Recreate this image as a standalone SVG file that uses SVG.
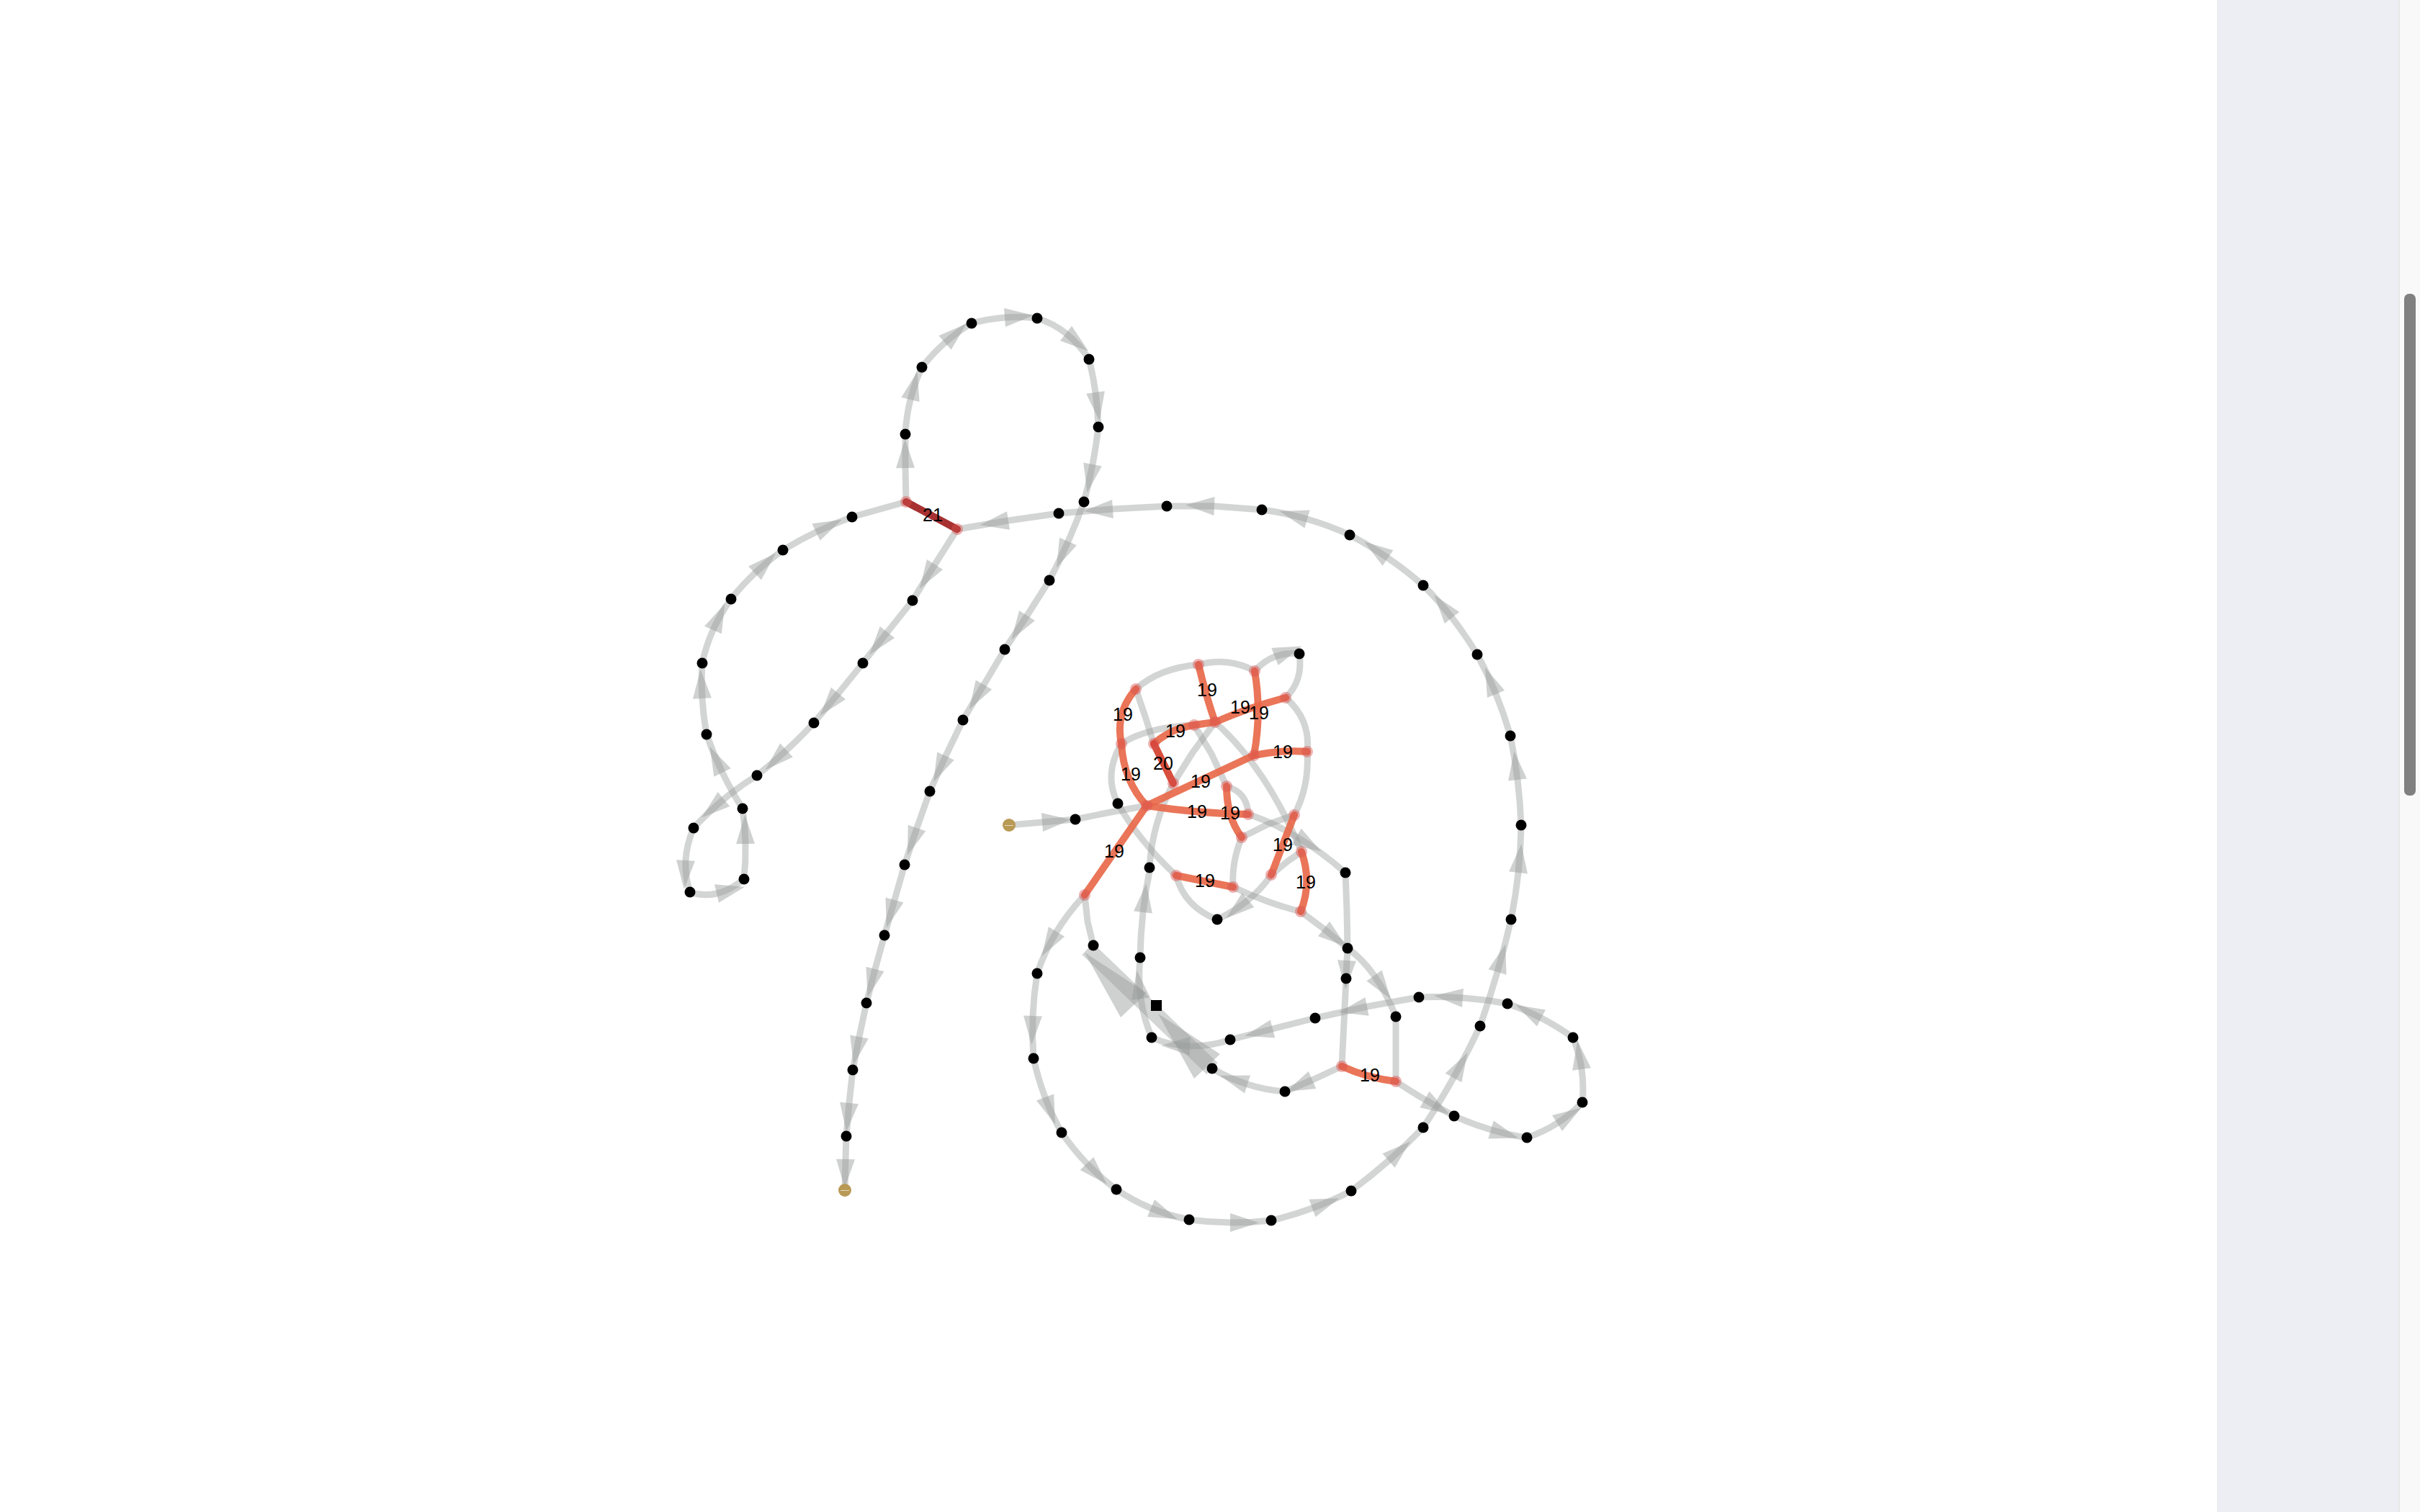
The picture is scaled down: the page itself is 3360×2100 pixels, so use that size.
<svg xmlns="http://www.w3.org/2000/svg" width="3360" height="2100" viewBox="0 0 3360 2100">
<style>
.g{fill:none;stroke:#969b98;stroke-opacity:.42;stroke-width:9;stroke-linecap:round;stroke-linejoin:round}
.ga{marker-mid:url(#a)}
.band{fill:none;stroke:#969b98;stroke-opacity:.42;stroke-width:22;stroke-linecap:butt}
.bh{fill:#959a97;fill-opacity:.45}
.r{fill:none;stroke:#e8694a;stroke-opacity:.92;stroke-width:10;stroke-linecap:round}
.r20{stroke:#d43f2c}
.r21{stroke:#a02020}
.jc{fill:#d9534f;fill-opacity:.45}
.n{fill:#000}
.gold{fill:#b99a55}
.lb{font-family:"Liberation Sans",Arial,sans-serif;font-size:25px;fill:#000;text-anchor:middle;dominant-baseline:central}
.gl{font-family:"Liberation Sans",Arial,sans-serif;font-size:9px;fill:#fff;text-anchor:middle;dominant-baseline:central}
</style>
<defs>
<marker id="a" markerUnits="userSpaceOnUse" orient="auto" overflow="visible" markerWidth="1" markerHeight="1" refX="0" refY="0"><path d="M0,-13 L40,0 L0,13 Z" fill="#959a97" fill-opacity="0.45"/></marker>
</defs>
<rect width="3360" height="2100" fill="#fff"/>
<rect x="3078" y="0" width="252" height="2100" fill="#eceef3"/>
<rect x="3330" y="0" width="30" height="2100" fill="#f9f9f9"/>
<rect x="3330" y="0" width="2" height="2100" fill="#e6e6e6"/>
<rect x="3338" y="408" width="16" height="697" rx="7" fill="#808080"/>

<g id="connectors">
<path class="g ga" d="M1258 697 L1257 650 L1257 603"/>
<path class="g ga" d="M1257 603 Q1258.25 578.25 1264 555 T1280 510"/>
<path class="g ga" d="M1280 510 Q1294.75 491.25 1312 476 T1349 449"/>
<path class="g ga" d="M1349 449 Q1372.25 442.75 1395 441 T1440 442"/>
<path class="g ga" d="M1440 442 Q1462 448.75 1480 463 T1512 499"/>
<path class="g ga" d="M1512 499 Q1517.75 521.5 1521 545 T1525 593"/>
<path class="g ga" d="M1525 593 Q1522 619 1517 645 T1505 697"/>
<path class="g ga" d="M1505 697 Q1495 724.75 1483 752 T1457 806"/>
<path class="g ga" d="M1457 806 L1426 855 L1395 902"/>
<path class="g ga" d="M1395 902 L1366 951 L1337 1000"/>
<path class="g ga" d="M1337 1000 L1313 1050 L1291 1099"/>
<path class="g ga" d="M1291 1099 L1273 1150 L1256 1201"/>
<path class="g ga" d="M1256 1201 L1242 1250 L1228 1299"/>
<path class="g ga" d="M1228 1299 L1215 1346 L1203 1393"/>
<path class="g ga" d="M1203 1393 L1193 1440 L1184 1486"/>
<path class="g ga" d="M1184 1486 L1179 1532 L1175 1578"/>
<path class="g ga" d="M1175 1578 L1174 1610 L1173 1653"/>

<path class="g ga" d="M1329 735 L1298 784 L1267 834"/>
<path class="g ga" d="M1267 834 L1232 878 L1198 921"/>
<path class="g ga" d="M1198 921 L1164 963 L1130 1004"/>
<path class="g ga" d="M1130 1004 Q1111.75 1023.75 1092 1042 T1051 1077"/>
<path class="g ga" d="M1051 1077 Q1027 1091.75 1005 1110 T963 1150"/>
<path class="g ga" d="M963 1150 Q953.25 1172.75 952 1195 T958 1239"/>
<path class="g ga" d="M958 1239 Q976.25 1245.5 995 1241 T1033 1221"/>
<path class="g ga" d="M1033 1221 Q1035.5 1196.5 1035 1172 T1031 1123"/>
<path class="g ga" d="M1031 1123 Q1015.5 1098.75 1003 1073 T981 1020"/>
<path class="g ga" d="M981 1020 Q976.5 994.75 975 970 T975 921"/>
<path class="g ga" d="M975 921 Q980 897.25 990 875 T1015 832"/>
<path class="g ga" d="M1015 832 Q1030 813 1048 796 T1087 764"/>
<path class="g ga" d="M1087 764 Q1109 750.5 1133 739 T1183 718"/>
<path class="g" d="M1183 718 L1258 697"/>

<path class="g ga" d="M1470 713 L1400 723 L1329 735"/>
<path class="g ga" d="M1620 703 L1545 707 L1470 713"/>
<path class="g ga" d="M1752 708 L1686 703 L1620 703"/>
<path class="g ga" d="M1874 743 Q1845.5 729.75 1815 721 T1752 708"/>
<path class="g ga" d="M1976 813 Q1952.5 792.5 1927 775 T1874 743"/>
<path class="g ga" d="M2051 909 Q2034.75 882 2016 858 T1976 813"/>
<path class="g ga" d="M2097 1022 Q2088.5 992.25 2077 964 T2051 909"/>
<path class="g ga" d="M2112 1146 Q2110.75 1114 2107 1083 T2097 1022"/>
<path class="g ga" d="M2098 1277 Q2104.5 1244.75 2108 1212 T2112 1146"/>
<path class="g ga" d="M2055 1425 Q2068.25 1387 2079 1350 T2098 1277"/>
<path class="g ga" d="M1976 1566 Q1998.25 1532.25 2018 1497 T2055 1425"/>
<path class="g ga" d="M1876 1654 Q1903 1634 1928 1612 T1976 1566"/>
<path class="g ga" d="M1765 1695 Q1794.25 1688.25 1822 1678 T1876 1654"/>
<path class="g ga" d="M1651 1694 Q1679.5 1697.75 1708 1698 T1765 1695"/>
<path class="g ga" d="M1550 1652 Q1572.75 1667.5 1598 1678 T1651 1694"/>
<path class="g ga" d="M1474 1573 Q1490 1596.25 1509 1616 T1550 1652"/>
<path class="g ga" d="M1435 1470 Q1441.25 1498.25 1451 1524 T1474 1573"/>
<path class="g ga" d="M1440 1352 Q1435.25 1381.5 1434 1411 T1435 1470"/>
<path class="g ga" d="M1506 1243 Q1483.5 1266.75 1467 1294 T1440 1352"/>

<path class="g ga" d="M1938 1502 Q1957.75 1515 1978 1527 T2019 1550"/>
<path class="g ga" d="M2019 1550 Q2044.75 1561.5 2070 1569 T2120 1580"/>
<path class="g ga" d="M2120 1580 Q2142.75 1572.25 2162 1560 T2197 1531"/>
<path class="g ga" d="M2197 1531 Q2199.25 1507.5 2196 1485 T2184 1441"/>
<path class="g ga" d="M2184 1441 Q2162.75 1425.75 2140 1414 T2093 1394"/>
<path class="g ga" d="M2093 1394 Q2061.75 1388.25 2031 1386 T1970 1385"/>
<path class="g ga" d="M1970 1385 L1898 1398 L1826 1414"/>
<path class="g ga" d="M1826 1414 L1767 1429 L1708 1444"/>
<path class="g ga" d="M1708 1444 Q1679.25 1453.75 1652 1453 T1599 1441"/>
<path class="g ga" d="M1599 1441 Q1588 1414.75 1584 1387 T1583 1330"/>
<path class="g ga" d="M1583 1330 Q1583.5 1298.25 1587 1267 T1597 1205"/>
<path class="g ga" d="M1863 1481 L1822 1500 L1784 1516"/>
<path class="g ga" d="M1784 1516 Q1757.25 1514 1732 1506 T1683 1484"/>
<path class="band" d="M1683 1484 L1510 1318"/>
<path class="bh" d="M1694 1464 L1608 1408 L1658 1498 Z"/>
<path class="bh" d="M1592 1379 L1506 1323 L1556 1413 Z"/>
<path class="g" d="M1869 1359 L1863 1481"/>
<path class="g" d="M1938 1412 L1938 1502"/>
<path class="g ga" d="M1871 1317 L1870 1334 L1869 1359"/>
<path class="g ga" d="M1871 1317 Q1891.25 1331.25 1908 1355 T1938 1412"/>

<path class="g" d="M1577 957 Q1593.25 942.5 1615 934 T1664 923"/>
<path class="g" d="M1664 923 Q1685.5 917.75 1705 920 T1742 932"/>
<path class="g ga" d="M1742 932 Q1754.5 918 1770 912 T1804 908"/>
<path class="g" d="M1804 908 Q1806.75 926.75 1802 942 T1785 969"/>
<path class="g" d="M1785 969 Q1802.5 984.25 1810 1003 T1815 1044"/>
<path class="g" d="M1815 1044 Q1816.5 1068 1812 1090 T1797 1132"/>
<path class="g" d="M1577 957 L1590 995 L1602 1033"/>
<path class="g" d="M1557 1033 Q1574.75 1021.5 1600 1015 T1658 1007"/>
<path class="g" d="M1557 1033 Q1544.25 1054.25 1543 1075 T1552 1116"/>
<path class="g" d="M1552 1116 Q1566.75 1142 1587 1167 T1633 1216"/>
<path class="g" d="M1633 1216 Q1638.75 1237.75 1653 1253 T1690 1277"/>
<path class="g ga" d="M1765 1215 Q1751.75 1234.5 1733 1250 T1690 1277"/>
<path class="g" d="M1765 1215 L1788 1196 L1807 1183"/>
<path class="g" d="M1687 1003 Q1723 1035 1753 1080 T1807 1183"/>
<path class="g" d="M1658 1007 L1682 1047 L1703 1092"/>
<path class="g" d="M1703 1092 Q1717.5 1096.25 1725 1106 T1733 1131"/>
<path class="g ga" d="M1733 1131 Q1766.25 1141.75 1800 1162 T1868 1212"/>
<path class="g" d="M1724 1163 L1760 1145 L1797 1132"/>
<path class="g" d="M1724 1163 Q1717 1179.75 1714 1197 T1712 1232"/>
<path class="g" d="M1712 1232 Q1736.5 1243.5 1760 1252 T1806 1266"/>
<path class="g ga" d="M1806 1266 L1838 1290 L1871 1317"/>
<path class="g" d="M1868 1212 L1870 1265 L1871 1317"/>
<path class="g" d="M1493 1138 L1542 1128 L1592 1119"/>
<path class="g" d="M1687 1003 L1656 1045 L1629 1088"/>
<path class="g" d="M1596 1205 Q1597.75 1174.25 1606 1145 T1629 1088"/>
<path class="g ga" d="M1401 1146 L1447 1142 L1493 1138"/>
<path class="g" d="M1506 1243 L1510 1280 L1518 1313"/>

<path class="r r21" d="M1258 697 L1329 735"/>
<path class="r" d="M1577 957 Q1548 990 1557 1033"/>
<path class="r" d="M1557 1033 Q1560 1085 1592 1119"/>
<path class="r" d="M1664 923 Q1674 965 1687 1003"/>
<path class="r" d="M1602 1033 Q1625 1012 1658 1007 L1687 1003 Q1735 982 1785 969"/>
<path class="r" d="M1742 932 Q1752 990 1741 1049"/>
<path class="r" d="M1741 1049 Q1780 1041 1815 1044"/>
<path class="r r20" d="M1602 1033 L1629 1088"/>
<path class="r" d="M1592 1119 L1741 1049"/>
<path class="r" d="M1592 1119 Q1665 1130 1733 1131"/>
<path class="r" d="M1703 1092 Q1703 1135 1724 1163"/>
<path class="r" d="M1797 1132 L1765 1215"/>
<path class="r" d="M1807 1183 Q1822 1225 1806 1266"/>
<path class="r" d="M1633 1216 L1712 1232"/>
<path class="r" d="M1592 1119 L1506 1243"/>
<path class="r" d="M1863 1481 Q1898 1497 1938 1502"/>
</g>

<g id="junctions">
<circle class="jc" cx="1258" cy="697" r="8"/><circle class="jc" cx="1329" cy="735" r="8"/>
<circle class="jc" cx="1577" cy="957" r="8"/><circle class="jc" cx="1664" cy="923" r="8"/>
<circle class="jc" cx="1742" cy="932" r="8"/><circle class="jc" cx="1785" cy="969" r="8"/>
<circle class="jc" cx="1557" cy="1033" r="8"/><circle class="jc" cx="1602" cy="1033" r="8"/>
<circle class="jc" cx="1658" cy="1007" r="8"/><circle class="jc" cx="1687" cy="1003" r="8"/>
<circle class="jc" cx="1741" cy="1049" r="8"/><circle class="jc" cx="1815" cy="1044" r="8"/>
<circle class="jc" cx="1629" cy="1088" r="8"/><circle class="jc" cx="1592" cy="1119" r="8"/>
<circle class="jc" cx="1703" cy="1092" r="8"/><circle class="jc" cx="1733" cy="1131" r="8"/>
<circle class="jc" cx="1724" cy="1163" r="8"/><circle class="jc" cx="1797" cy="1132" r="8"/>
<circle class="jc" cx="1765" cy="1215" r="8"/><circle class="jc" cx="1807" cy="1183" r="8"/>
<circle class="jc" cx="1806" cy="1266" r="8"/><circle class="jc" cx="1633" cy="1216" r="8"/>
<circle class="jc" cx="1712" cy="1232" r="8"/><circle class="jc" cx="1506" cy="1243" r="8"/>
<circle class="jc" cx="1863" cy="1481" r="8"/><circle class="jc" cx="1938" cy="1502" r="8"/>
</g>

<g id="labels">
<text class="lb" x="1295" y="715">21</text>
<text class="lb" x="1559" y="992">19</text>
<text class="lb" x="1676" y="958">19</text>
<text class="lb" x="1722" y="982">19</text>
<text class="lb" x="1748" y="990">19</text>
<text class="lb" x="1632" y="1015">19</text>
<text class="lb" x="1781" y="1044">19</text>
<text class="lb" x="1615" y="1060">20</text>
<text class="lb" x="1570" y="1075">19</text>
<text class="lb" x="1667" y="1085">19</text>
<text class="lb" x="1662" y="1127">19</text>
<text class="lb" x="1708" y="1129">19</text>
<text class="lb" x="1781" y="1173">19</text>
<text class="lb" x="1547" y="1182">19</text>
<text class="lb" x="1673" y="1223">19</text>
<text class="lb" x="1813" y="1225">19</text>
<text class="lb" x="1902" y="1493">19</text>
</g>

<g id="n1"><circle class="n" cx="1257" cy="603" r="7.5"/></g>
<g id="n2"><circle class="n" cx="1280" cy="510" r="7.5"/></g>
<g id="n3"><circle class="n" cx="1349" cy="449" r="7.5"/></g>
<g id="n4"><circle class="n" cx="1440" cy="442" r="7.5"/></g>
<g id="n5"><circle class="n" cx="1512" cy="499" r="7.5"/></g>
<g id="n6"><circle class="n" cx="1525" cy="593" r="7.5"/></g>
<g id="n7"><circle class="n" cx="1505" cy="697" r="7.5"/></g>
<g id="n8"><circle class="n" cx="1470" cy="713" r="7.5"/></g>
<g id="n9"><circle class="n" cx="1457" cy="806" r="7.5"/></g>
<g id="n10"><circle class="n" cx="1395" cy="902" r="7.5"/></g>
<g id="n11"><circle class="n" cx="1337" cy="1000" r="7.5"/></g>
<g id="n12"><circle class="n" cx="1291" cy="1099" r="7.5"/></g>
<g id="n13"><circle class="n" cx="1256" cy="1201" r="7.5"/></g>
<g id="n14"><circle class="n" cx="1228" cy="1299" r="7.5"/></g>
<g id="n15"><circle class="n" cx="1203" cy="1393" r="7.5"/></g>
<g id="n16"><circle class="n" cx="1184" cy="1486" r="7.5"/></g>
<g id="n17"><circle class="n" cx="1175" cy="1578" r="7.5"/></g>
<g id="n18"><circle class="n" cx="1267" cy="834" r="7.5"/></g>
<g id="n19"><circle class="n" cx="1198" cy="921" r="7.5"/></g>
<g id="n20"><circle class="n" cx="1130" cy="1004" r="7.5"/></g>
<g id="n21"><circle class="n" cx="1051" cy="1077" r="7.5"/></g>
<g id="n22"><circle class="n" cx="963" cy="1150" r="7.5"/></g>
<g id="n23"><circle class="n" cx="958" cy="1239" r="7.5"/></g>
<g id="n24"><circle class="n" cx="1033" cy="1221" r="7.5"/></g>
<g id="n25"><circle class="n" cx="1031" cy="1123" r="7.5"/></g>
<g id="n26"><circle class="n" cx="981" cy="1020" r="7.5"/></g>
<g id="n27"><circle class="n" cx="975" cy="921" r="7.5"/></g>
<g id="n28"><circle class="n" cx="1015" cy="832" r="7.5"/></g>
<g id="n29"><circle class="n" cx="1087" cy="764" r="7.5"/></g>
<g id="n30"><circle class="n" cx="1183" cy="718" r="7.5"/></g>
<g id="n31"><circle class="n" cx="1620" cy="703" r="7.5"/></g>
<g id="n32"><circle class="n" cx="1752" cy="708" r="7.5"/></g>
<g id="n33"><circle class="n" cx="1874" cy="743" r="7.5"/></g>
<g id="n34"><circle class="n" cx="1976" cy="813" r="7.5"/></g>
<g id="n35"><circle class="n" cx="2051" cy="909" r="7.5"/></g>
<g id="n36"><circle class="n" cx="2097" cy="1022" r="7.5"/></g>
<g id="n37"><circle class="n" cx="2112" cy="1146" r="7.5"/></g>
<g id="n38"><circle class="n" cx="2098" cy="1277" r="7.5"/></g>
<g id="n39"><circle class="n" cx="2055" cy="1425" r="7.5"/></g>
<g id="n40"><circle class="n" cx="1976" cy="1566" r="7.5"/></g>
<g id="n41"><circle class="n" cx="1876" cy="1654" r="7.5"/></g>
<g id="n42"><circle class="n" cx="1765" cy="1695" r="7.5"/></g>
<g id="n43"><circle class="n" cx="1651" cy="1694" r="7.5"/></g>
<g id="n44"><circle class="n" cx="1550" cy="1652" r="7.5"/></g>
<g id="n45"><circle class="n" cx="1474" cy="1573" r="7.5"/></g>
<g id="n46"><circle class="n" cx="1435" cy="1470" r="7.5"/></g>
<g id="n47"><circle class="n" cx="1440" cy="1352" r="7.5"/></g>
<g id="n48"><circle class="n" cx="2019" cy="1550" r="7.5"/></g>
<g id="n49"><circle class="n" cx="2120" cy="1580" r="7.5"/></g>
<g id="n50"><circle class="n" cx="2197" cy="1531" r="7.5"/></g>
<g id="n51"><circle class="n" cx="2184" cy="1441" r="7.5"/></g>
<g id="n52"><circle class="n" cx="2093" cy="1394" r="7.5"/></g>
<g id="n53"><circle class="n" cx="1970" cy="1385" r="7.5"/></g>
<g id="n54"><circle class="n" cx="1826" cy="1414" r="7.5"/></g>
<g id="n55"><circle class="n" cx="1708" cy="1444" r="7.5"/></g>
<g id="n56"><circle class="n" cx="1599" cy="1441" r="7.5"/></g>
<g id="n57"><circle class="n" cx="1583" cy="1330" r="7.5"/></g>
<g id="n58"><circle class="n" cx="1784" cy="1516" r="7.5"/></g>
<g id="n59"><circle class="n" cx="1683" cy="1484" r="7.5"/></g>
<g id="n60"><circle class="n" cx="1869" cy="1359" r="7.5"/></g>
<g id="n61"><circle class="n" cx="1938" cy="1412" r="7.5"/></g>
<g id="n62"><circle class="n" cx="1871" cy="1317" r="7.5"/></g>
<g id="n63"><circle class="n" cx="1868" cy="1212" r="7.5"/></g>
<g id="n64"><circle class="n" cx="1804" cy="908" r="7.5"/></g>
<g id="n65"><circle class="n" cx="1552" cy="1116" r="7.5"/></g>
<g id="n66"><circle class="n" cx="1596" cy="1205" r="7.5"/></g>
<g id="n67"><circle class="n" cx="1690" cy="1277" r="7.5"/></g>
<g id="n68"><circle class="n" cx="1493" cy="1138" r="7.5"/></g>
<g id="n69"><circle class="n" cx="1518" cy="1313" r="7.5"/></g>
<g id="n70"><rect class="n" x="1598" y="1389" width="15" height="15"/></g>
<g id="start"><circle class="gold" cx="1401" cy="1146" r="9"/><text class="gl" x="1401" y="1146">----</text></g>
<g id="end"><circle class="gold" cx="1173" cy="1653" r="9"/><text class="gl" x="1173" y="1653">----</text></g>
</svg>
